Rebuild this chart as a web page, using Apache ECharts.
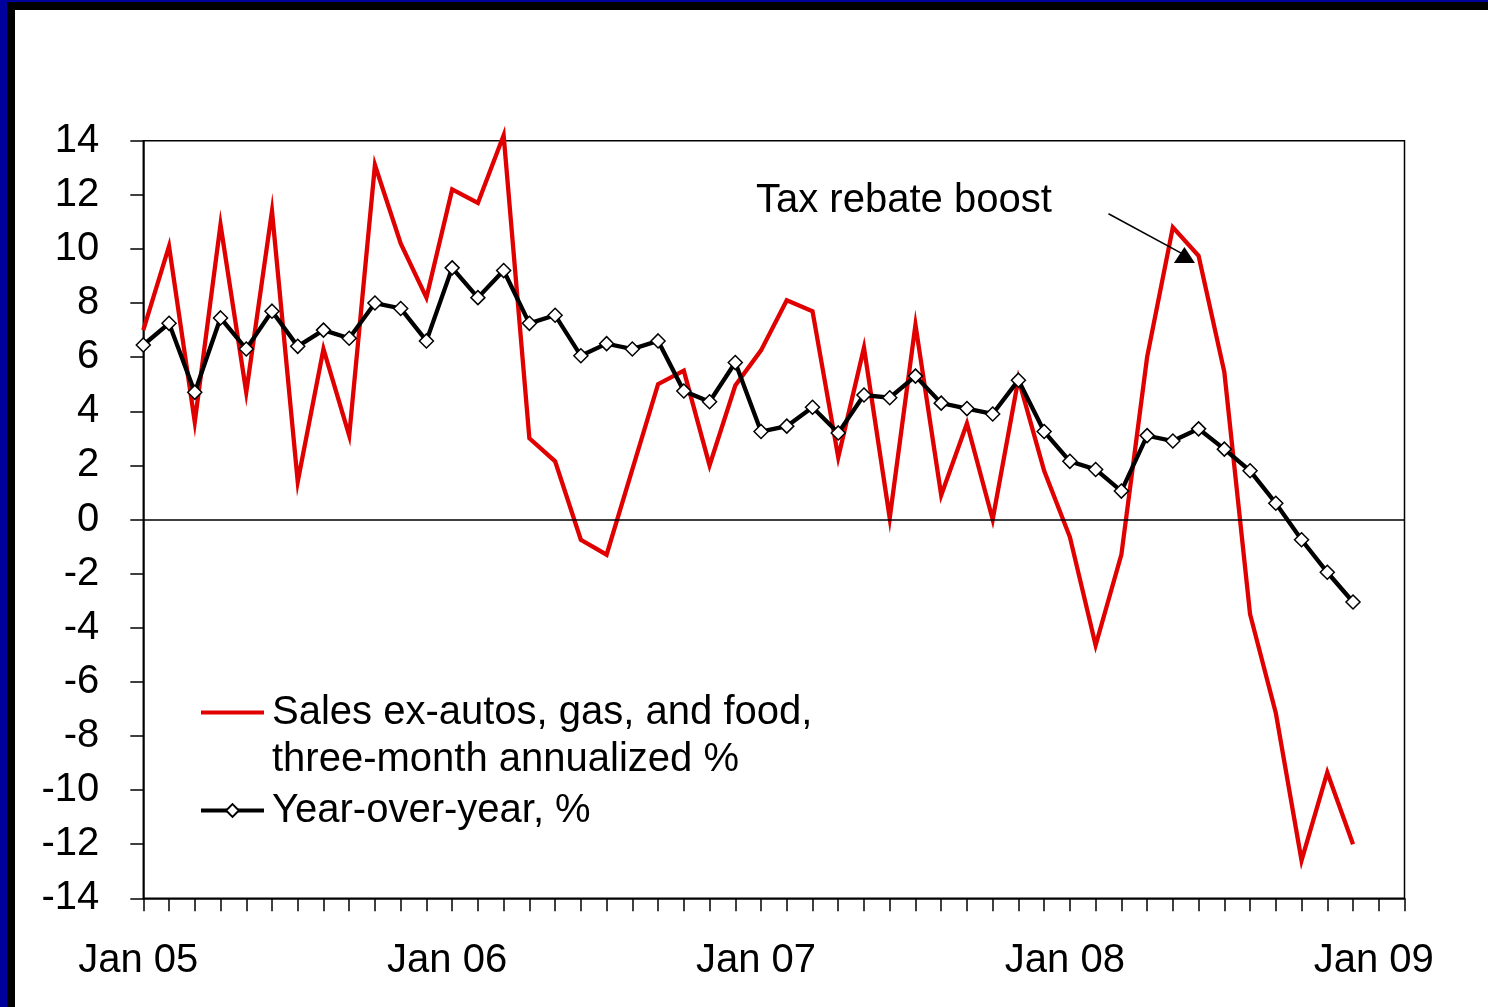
<!DOCTYPE html>
<html>
<head>
<meta charset="utf-8">
<title>Retail sales ex-autos, gas and food</title>
<script src="https://cdn.jsdelivr.net/npm/echarts@6/dist/echarts.min.js"></script>
<style>
  html, body { margin: 0; padding: 0; width: 1488px; height: 1007px; overflow: hidden; background: #00009c; }
  #frame { position: absolute; left: 7px; top: 2px; width: 1500px; height: 1020px; background: #000; }
  #sheet { position: absolute; left: 15px; top: 10px; width: 1490px; height: 1010px; background: #fff; }
  #chart { position: absolute; left: 0; top: 0; width: 1488px; height: 1007px; }
</style>
</head>
<body>
<div id="frame"></div>
<div id="sheet"></div>
<div id="chart"></div>
<script>
// Monthly observations, Jan 2005 through Dec 2008
const tickLabels = ['Jan 05', 'Jan 06', 'Jan 07', 'Jan 08', 'Jan 09'];

const salesThreeMonth = [
  7.0, 10.1, 3.6, 10.9, 4.7, 11.4, 1.4, 6.3, 3.1, 13.1, 10.2, 8.2,
  12.2, 11.7, 14.2, 3.0, 2.15, -0.75, -1.3, 1.85, 5.0, 5.5, 2.0, 4.95,
  6.25, 8.1, 7.7, 2.3, 6.35, 0.05, 7.2, 0.9, 3.55, 0.0, 5.2, 1.8,
  -0.65, -4.65, -1.3, 6.0, 10.8, 9.75, 5.45, -3.5, -7.15, -12.6, -9.35, -12.0
];

const yearOverYear = [
  6.45, 7.25, 4.7, 7.45, 6.3, 7.7, 6.4, 7.0, 6.7, 8.0, 7.8, 6.6,
  9.3, 8.2, 9.2, 7.25, 7.55, 6.05, 6.5, 6.3, 6.6, 4.75, 4.35, 5.8,
  3.25, 3.45, 4.15, 3.2, 4.6, 4.5, 5.3, 4.3, 4.1, 3.9, 5.15, 3.25,
  2.15, 1.85, 1.05, 3.1, 2.9, 3.35, 2.6, 1.8, 0.6, -0.75, -1.95, -3.05
];

const salesName = 'Sales ex-autos, gas, and food,\nthree-month annualized %';
const yoyName = 'Year-over-year, %';

const FONT = '"Liberation Sans", Arial, Helvetica, sans-serif';
const RED = '#e00000';

const chart = echarts.init(document.getElementById('chart'), null, { renderer: 'canvas' });

chart.setOption({
  animation: false,
  textStyle: { fontFamily: FONT, color: '#000' },
  grid: {
    left: 143.3, top: 140.7, right: 83.5, bottom: 108.7,
    show: true, borderColor: '#000', borderWidth: 1.5,
    backgroundColor: 'transparent',
    containLabel: false, outerBoundsMode: 'none'
  },
  xAxis: {
    type: 'value',
    min: 0, max: 49, interval: 1,
    axisLine: { onZero: false, lineStyle: { color: '#000', width: 1.5 } },
    axisTick: { inside: false, length: 13, lineStyle: { color: '#000', width: 1.5 } },
    splitLine: { show: false },
    axisLabel: {
      margin: 43,
      fontSize: 40, lineHeight: 40, fontFamily: FONT, color: '#000',
      padding: [0, 10, 0, 0],
      showMinLabel: true, showMaxLabel: true,
      formatter: v => (v % 12 === 0 ? tickLabels[v / 12] : '')
    }
  },
  yAxis: {
    type: 'value',
    min: -14, max: 14, interval: 2,
    axisLine: { show: true, onZero: false, lineStyle: { color: '#000', width: 1.5 } },
    axisTick: { show: true, inside: false, length: 13, lineStyle: { color: '#000', width: 1.5 } },
    splitLine: { show: false },
    axisLabel: {
      margin: 44, fontSize: 40, fontFamily: FONT, color: '#000',
      padding: [7, 0, 0, 0]
    }
  },
  legend: {
    orient: 'vertical',
    left: 199, top: 642,
    padding: 0,
    itemGap: 4,
    itemWidth: 63, itemHeight: 16,
    selectedMode: false,
    lineStyle: { width: 4 },
    textStyle: { fontSize: 40, lineHeight: 47, fontFamily: FONT, color: '#000', padding: [0, 0, 0, 3] },
    // the two-line entry gets an empty leading line so its first line sits beside the key
    formatter: name => (name === salesName ? '\n' + name : name),
    data: [
      { name: salesName, itemStyle: { opacity: 0 } },
      { name: yoyName }
    ]
  },
  graphic: [
    {
      type: 'text',
      x: 756, y: 201,
      silent: true,
      style: {
        text: 'Tax rebate boost',
        font: '40px ' + FONT,
        fill: '#000',
        align: 'left', verticalAlign: 'middle',
        textAlign: 'left', textVerticalAlign: 'middle'
      }
    }
  ],
  series: [
    {
      name: salesName,
      type: 'line',
      color: RED,
      symbol: 'none',
      clip: false,
      lineStyle: { color: RED, width: 4.3, join: 'miter' },
      data: salesThreeMonth.map((v, i) => [i, v]),
      z: 2,
      markLine: {
        silent: true,
        animation: false,
        label: { show: false },
        emphasis: { disabled: true },
        data: [
          // zero reference line
          [{ coord: [0, 0], symbol: 'none' }, { coord: [49, 0], symbol: 'none' }],
          // arrow pointing at the rebate-driven spike
          [
            { coord: [37.5, 11.3], symbol: 'none', lineStyle: { width: 1.5 } },
            { coord: [40.45, 9.78], symbol: 'triangle', symbolSize: [21, 16], symbolRotate: 0, lineStyle: { width: 1.5 }, itemStyle: { color: '#000' } }
          ]
        ],
        symbol: ['none', 'none'],
        lineStyle: { color: '#000', width: 1.5, type: 'solid' },
        itemStyle: { color: '#000' }
      }
    },
    {
      name: yoyName,
      type: 'line',
      color: '#000',
      symbol: 'diamond',
      symbolSize: 14,
      lineStyle: { color: '#000', width: 4.3, join: 'miter' },
      itemStyle: { color: '#fff', borderColor: '#000', borderWidth: 1.5 },
      data: yearOverYear.map((v, i) => [i, v]),
      z: 3
    }
  ]
});
</script>
</body>
</html>
